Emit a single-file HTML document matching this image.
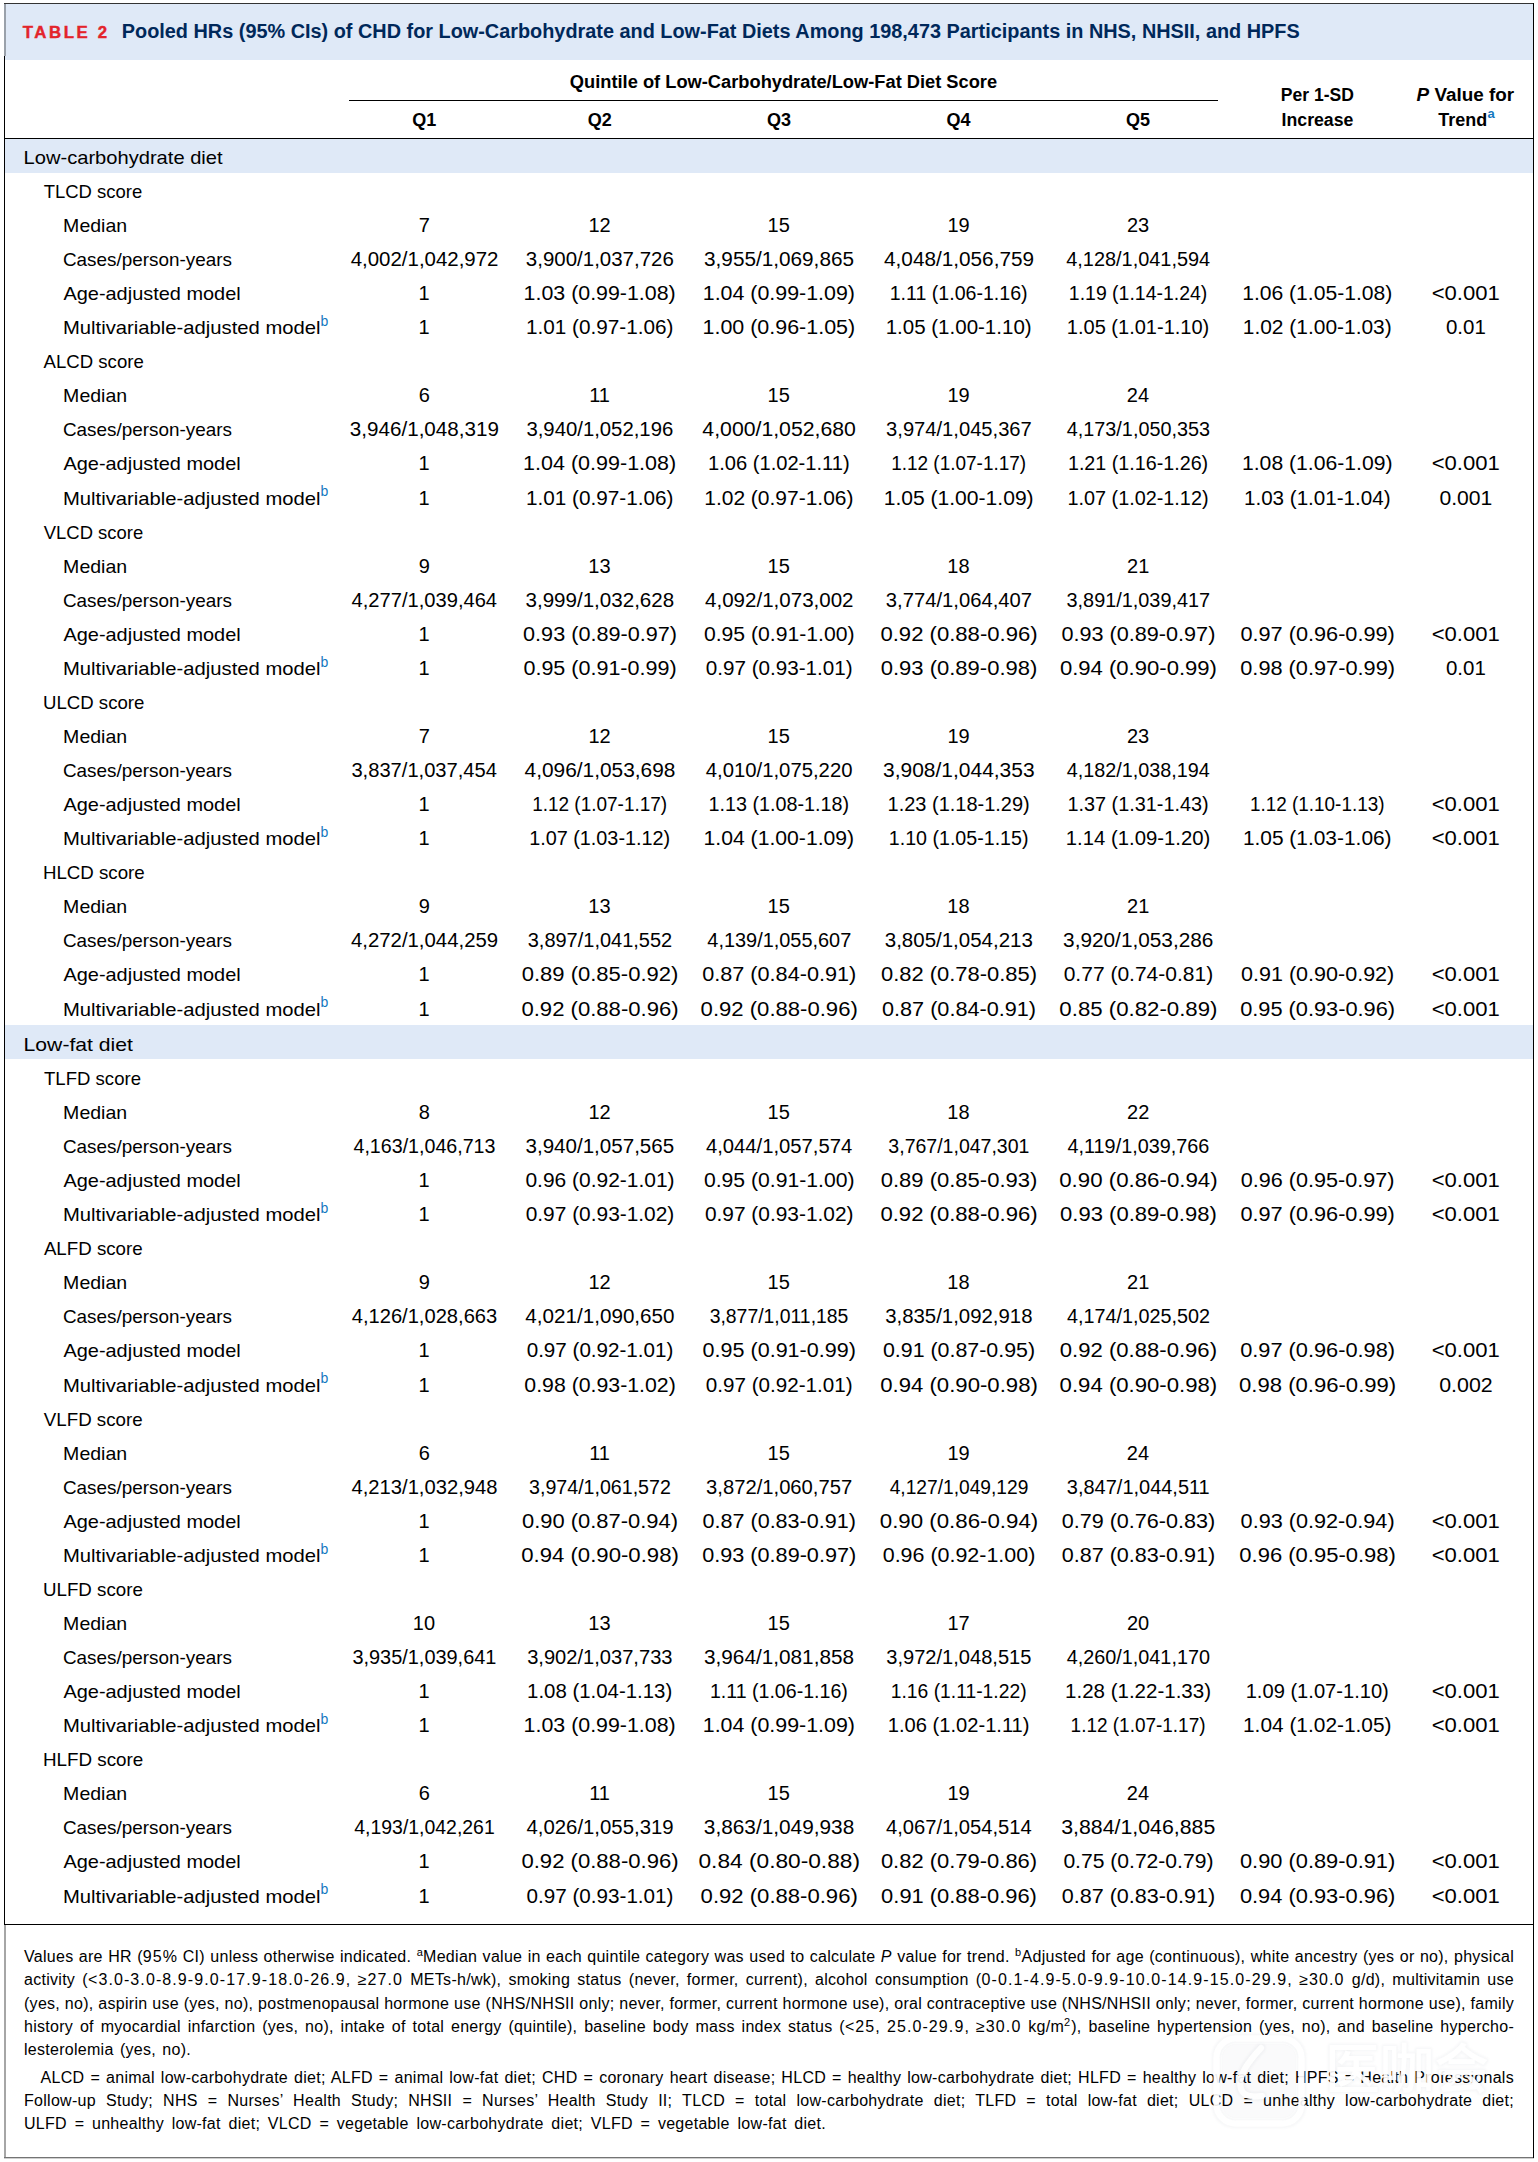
<!DOCTYPE html>
<html><head><meta charset="utf-8"><title>Table 2</title>
<style>
html,body{margin:0;padding:0;background:#fff;}
body{width:1538px;height:2162px;position:relative;overflow:hidden;font-family:"Liberation Sans",Arial,sans-serif;color:#000;}
svg{position:absolute;left:0;top:0;}
svg text{font-family:"Liberation Sans",Arial,sans-serif;}
.fn{position:absolute;left:24px;width:1490px;font-size:16px;line-height:23px;height:23px;white-space:nowrap;text-align:justify;text-align-last:justify;letter-spacing:0.28px;}
.fn .n{letter-spacing:1.1px;}
.fn sup{font-size:11px;line-height:0;vertical-align:6px;}
</style></head><body>
<svg width="1538" height="2162" viewBox="0 0 1538 2162">
<rect x="5" y="4" width="1528" height="56" fill="#dfe9f7"/>
<rect x="5" y="139" width="1528" height="34" fill="#dfe9f7"/>
<rect x="5" y="1025" width="1528" height="34" fill="#dfe9f7"/>
<rect x="4" y="3" width="1530" height="1" fill="#333"/>
<rect x="4" y="4" width="2" height="52" fill="#9aa1aa"/>
<rect x="4" y="56" width="1" height="1869" fill="#000"/>
<rect x="4" y="1925" width="2" height="232" fill="#a6a6a6"/>
<rect x="4" y="2157" width="1530" height="1" fill="#747474"/>
<rect x="4" y="2158" width="1530" height="1" fill="#cfcfcf"/>
<rect x="1533" y="3" width="1" height="2155" fill="#000"/>
<rect x="5" y="138" width="1528" height="1" fill="#000"/>
<rect x="349" y="100" width="869" height="1" fill="#000"/>
<rect x="5" y="1924" width="1528" height="1" fill="#000"/>
<text x="22.73" y="38.00" font-size="16.8" font-weight="bold" fill="#e3242b" textLength="84.29" lengthAdjust="spacing" stroke="#e3242b" stroke-width="0.45">TABLE 2</text>
<text x="121.81" y="38.00" font-size="19.6" font-weight="bold" fill="#00285a" textLength="1177.90" lengthAdjust="spacingAndGlyphs">Pooled HRs (95% CIs) of CHD for Low-Carbohydrate and Low-Fat Diets Among 198,473 Participants in NHS, NHSII, and HPFS</text>
<text x="569.87" y="88.00" font-size="18" font-weight="bold" textLength="427.29" lengthAdjust="spacingAndGlyphs">Quintile of Low-Carbohydrate/Low-Fat Diet Score</text>
<text x="412.35" y="126.00" font-size="18" font-weight="bold">Q1</text>
<text x="587.83" y="126.00" font-size="18" font-weight="bold">Q2</text>
<text x="766.94" y="126.00" font-size="18" font-weight="bold">Q3</text>
<text x="946.47" y="126.00" font-size="18" font-weight="bold">Q4</text>
<text x="1126.10" y="126.00" font-size="18" font-weight="bold">Q5</text>
<text x="1280.86" y="101.00" font-size="18" font-weight="bold" textLength="73.10" lengthAdjust="spacingAndGlyphs">Per 1-SD</text>
<text x="1281.55" y="125.70" font-size="18" font-weight="bold" textLength="71.86" lengthAdjust="spacingAndGlyphs">Increase</text>
<text x="1416.57" y="101.00" font-size="18" font-weight="bold" textLength="97.53" lengthAdjust="spacingAndGlyphs"><tspan font-style="italic">P</tspan> Value for</text>
<text x="1438.32" y="125.70" font-size="18" font-weight="bold" textLength="48.90" lengthAdjust="spacingAndGlyphs">Trend</text>
<text x="1487.5" y="117.7" fill="#1478c0" font-weight="bold" font-size="13">a</text>
<text x="23.59" y="163.96" font-size="19" textLength="199.01" lengthAdjust="spacingAndGlyphs">Low-carbohydrate diet</text>
<text x="43.63" y="197.94" font-size="19" textLength="98.60" lengthAdjust="spacingAndGlyphs">TLCD score</text>
<text x="63.14" y="231.91" font-size="19" textLength="64.03" lengthAdjust="spacingAndGlyphs">Median</text>
<text x="418.75" y="231.91" font-size="20">7</text>
<text x="588.45" y="231.91" font-size="20">12</text>
<text x="767.55" y="231.91" font-size="20">15</text>
<text x="947.40" y="231.91" font-size="20">19</text>
<text x="1127.00" y="231.91" font-size="20">23</text>
<text x="62.91" y="265.89" font-size="19" textLength="169.08" lengthAdjust="spacingAndGlyphs">Cases/person-years</text>
<text x="350.70" y="265.89" font-size="20" textLength="147.80" lengthAdjust="spacingAndGlyphs">4,002/1,042,972</text>
<text x="525.89" y="265.89" font-size="20" textLength="147.90" lengthAdjust="spacingAndGlyphs">3,900/1,037,726</text>
<text x="704.09" y="265.89" font-size="20" textLength="149.92" lengthAdjust="spacingAndGlyphs">3,955/1,069,865</text>
<text x="884.09" y="265.89" font-size="20" textLength="149.93" lengthAdjust="spacingAndGlyphs">4,048/1,056,759</text>
<text x="1066.27" y="265.89" font-size="20" textLength="143.94" lengthAdjust="spacingAndGlyphs">4,128/1,041,594</text>
<text x="63.45" y="299.86" font-size="19" textLength="177.29" lengthAdjust="spacingAndGlyphs">Age-adjusted model</text>
<text x="418.45" y="299.86" font-size="20">1</text>
<text x="523.61" y="299.86" font-size="20" textLength="152.09" lengthAdjust="spacingAndGlyphs">1.03 (0.99-1.08)</text>
<text x="702.75" y="299.86" font-size="20" textLength="152.21" lengthAdjust="spacingAndGlyphs">1.04 (0.99-1.09)</text>
<text x="889.71" y="299.86" font-size="20" textLength="137.92" lengthAdjust="spacingAndGlyphs">1.11 (1.06-1.16)</text>
<text x="1068.83" y="299.86" font-size="20" textLength="138.47" lengthAdjust="spacingAndGlyphs">1.19 (1.14-1.24)</text>
<text x="1242.15" y="299.86" font-size="20" textLength="150.21" lengthAdjust="spacingAndGlyphs">1.06 (1.05-1.08)</text>
<text x="1431.70" y="299.86" font-size="20" textLength="68.13" lengthAdjust="spacingAndGlyphs">&lt;0.001</text>
<text x="63.03" y="334.33" font-size="19" textLength="257.51" lengthAdjust="spacingAndGlyphs">Multivariable-adjusted model</text>
<text x="320.5" y="325.93" fill="#1478c0" font-size="14">b</text>
<text x="418.45" y="334.33" font-size="20">1</text>
<text x="525.90" y="334.33" font-size="20" textLength="147.51" lengthAdjust="spacingAndGlyphs">1.01 (0.97-1.06)</text>
<text x="702.51" y="334.33" font-size="20" textLength="152.68" lengthAdjust="spacingAndGlyphs">1.00 (0.96-1.05)</text>
<text x="885.66" y="334.33" font-size="20" textLength="145.98" lengthAdjust="spacingAndGlyphs">1.05 (1.00-1.10)</text>
<text x="1066.83" y="334.33" font-size="20" textLength="142.46" lengthAdjust="spacingAndGlyphs">1.05 (1.01-1.10)</text>
<text x="1242.79" y="334.33" font-size="20" textLength="148.92" lengthAdjust="spacingAndGlyphs">1.02 (1.00-1.03)</text>
<text x="1445.93" y="334.33" font-size="20" textLength="39.87" lengthAdjust="spacingAndGlyphs">0.01</text>
<text x="43.60" y="368.30" font-size="19" textLength="100.16" lengthAdjust="spacingAndGlyphs">ALCD score</text>
<text x="63.14" y="402.28" font-size="19" textLength="64.03" lengthAdjust="spacingAndGlyphs">Median</text>
<text x="418.65" y="402.28" font-size="20">6</text>
<text x="589.15" y="402.28" font-size="20">11</text>
<text x="767.55" y="402.28" font-size="20">15</text>
<text x="947.40" y="402.28" font-size="20">19</text>
<text x="1126.85" y="402.28" font-size="20">24</text>
<text x="62.91" y="436.26" font-size="19" textLength="169.08" lengthAdjust="spacingAndGlyphs">Cases/person-years</text>
<text x="349.89" y="436.26" font-size="20" textLength="149.01" lengthAdjust="spacingAndGlyphs">3,946/1,048,319</text>
<text x="526.40" y="436.26" font-size="20" textLength="146.89" lengthAdjust="spacingAndGlyphs">3,940/1,052,196</text>
<text x="702.39" y="436.26" font-size="20" textLength="153.52" lengthAdjust="spacingAndGlyphs">4,000/1,052,680</text>
<text x="886.07" y="436.26" font-size="20" textLength="145.75" lengthAdjust="spacingAndGlyphs">3,974/1,045,367</text>
<text x="1066.83" y="436.26" font-size="20" textLength="143.12" lengthAdjust="spacingAndGlyphs">4,173/1,050,353</text>
<text x="63.45" y="470.23" font-size="19" textLength="177.29" lengthAdjust="spacingAndGlyphs">Age-adjusted model</text>
<text x="418.45" y="470.23" font-size="20">1</text>
<text x="523.13" y="470.23" font-size="20" textLength="153.03" lengthAdjust="spacingAndGlyphs">1.04 (0.99-1.08)</text>
<text x="708.03" y="470.23" font-size="20" textLength="141.68" lengthAdjust="spacingAndGlyphs">1.06 (1.02-1.11)</text>
<text x="891.20" y="470.23" font-size="20" textLength="134.94" lengthAdjust="spacingAndGlyphs">1.12 (1.07-1.17)</text>
<text x="1067.95" y="470.23" font-size="20" textLength="140.23" lengthAdjust="spacingAndGlyphs">1.21 (1.16-1.26)</text>
<text x="1241.97" y="470.23" font-size="20" textLength="150.56" lengthAdjust="spacingAndGlyphs">1.08 (1.06-1.09)</text>
<text x="1431.70" y="470.23" font-size="20" textLength="68.13" lengthAdjust="spacingAndGlyphs">&lt;0.001</text>
<text x="63.03" y="504.70" font-size="19" textLength="257.51" lengthAdjust="spacingAndGlyphs">Multivariable-adjusted model</text>
<text x="320.5" y="496.30" fill="#1478c0" font-size="14">b</text>
<text x="418.45" y="504.70" font-size="20">1</text>
<text x="525.90" y="504.70" font-size="20" textLength="147.51" lengthAdjust="spacingAndGlyphs">1.01 (0.97-1.06)</text>
<text x="704.22" y="504.70" font-size="20" textLength="149.27" lengthAdjust="spacingAndGlyphs">1.02 (0.97-1.06)</text>
<text x="883.66" y="504.70" font-size="20" textLength="149.98" lengthAdjust="spacingAndGlyphs">1.05 (1.00-1.09)</text>
<text x="1067.59" y="504.70" font-size="20" textLength="140.93" lengthAdjust="spacingAndGlyphs">1.07 (1.02-1.12)</text>
<text x="1243.97" y="504.70" font-size="20" textLength="146.57" lengthAdjust="spacingAndGlyphs">1.03 (1.01-1.04)</text>
<text x="1439.46" y="504.70" font-size="20" textLength="52.85" lengthAdjust="spacingAndGlyphs">0.001</text>
<text x="43.81" y="538.67" font-size="19" textLength="99.34" lengthAdjust="spacingAndGlyphs">VLCD score</text>
<text x="63.14" y="572.65" font-size="19" textLength="64.03" lengthAdjust="spacingAndGlyphs">Median</text>
<text x="418.75" y="572.65" font-size="20">9</text>
<text x="588.35" y="572.65" font-size="20">13</text>
<text x="767.55" y="572.65" font-size="20">15</text>
<text x="947.35" y="572.65" font-size="20">18</text>
<text x="1127.05" y="572.65" font-size="20">21</text>
<text x="62.91" y="606.62" font-size="19" textLength="169.08" lengthAdjust="spacingAndGlyphs">Cases/person-years</text>
<text x="351.59" y="606.62" font-size="20" textLength="145.50" lengthAdjust="spacingAndGlyphs">4,277/1,039,464</text>
<text x="525.50" y="606.62" font-size="20" textLength="148.68" lengthAdjust="spacingAndGlyphs">3,999/1,032,628</text>
<text x="705.07" y="606.62" font-size="20" textLength="148.47" lengthAdjust="spacingAndGlyphs">4,092/1,073,002</text>
<text x="885.84" y="606.62" font-size="20" textLength="146.20" lengthAdjust="spacingAndGlyphs">3,774/1,064,407</text>
<text x="1066.53" y="606.62" font-size="20" textLength="143.62" lengthAdjust="spacingAndGlyphs">3,891/1,039,417</text>
<text x="63.45" y="640.60" font-size="19" textLength="177.29" lengthAdjust="spacingAndGlyphs">Age-adjusted model</text>
<text x="418.45" y="640.60" font-size="20">1</text>
<text x="523.08" y="640.60" font-size="20" textLength="153.90" lengthAdjust="spacingAndGlyphs">0.93 (0.89-0.97)</text>
<text x="703.97" y="640.60" font-size="20" textLength="150.51" lengthAdjust="spacingAndGlyphs">0.95 (0.91-1.00)</text>
<text x="880.44" y="640.60" font-size="20" textLength="157.17" lengthAdjust="spacingAndGlyphs">0.92 (0.88-0.96)</text>
<text x="1061.48" y="640.60" font-size="20" textLength="153.90" lengthAdjust="spacingAndGlyphs">0.93 (0.89-0.97)</text>
<text x="1240.44" y="640.60" font-size="20" textLength="154.37" lengthAdjust="spacingAndGlyphs">0.97 (0.96-0.99)</text>
<text x="1431.70" y="640.60" font-size="20" textLength="68.13" lengthAdjust="spacingAndGlyphs">&lt;0.001</text>
<text x="63.03" y="675.06" font-size="19" textLength="257.51" lengthAdjust="spacingAndGlyphs">Multivariable-adjusted model</text>
<text x="320.5" y="666.66" fill="#1478c0" font-size="14">b</text>
<text x="418.45" y="675.06" font-size="20">1</text>
<text x="523.43" y="675.06" font-size="20" textLength="153.20" lengthAdjust="spacingAndGlyphs">0.95 (0.91-0.99)</text>
<text x="705.77" y="675.06" font-size="20" textLength="146.89" lengthAdjust="spacingAndGlyphs">0.97 (0.93-1.01)</text>
<text x="880.68" y="675.06" font-size="20" textLength="156.71" lengthAdjust="spacingAndGlyphs">0.93 (0.89-0.98)</text>
<text x="1059.90" y="675.06" font-size="20" textLength="157.06" lengthAdjust="spacingAndGlyphs">0.94 (0.90-0.99)</text>
<text x="1240.27" y="675.06" font-size="20" textLength="154.72" lengthAdjust="spacingAndGlyphs">0.98 (0.97-0.99)</text>
<text x="1445.93" y="675.06" font-size="20" textLength="39.87" lengthAdjust="spacingAndGlyphs">0.01</text>
<text x="43.00" y="709.04" font-size="19" textLength="101.36" lengthAdjust="spacingAndGlyphs">ULCD score</text>
<text x="63.14" y="743.02" font-size="19" textLength="64.03" lengthAdjust="spacingAndGlyphs">Median</text>
<text x="418.75" y="743.02" font-size="20">7</text>
<text x="588.45" y="743.02" font-size="20">12</text>
<text x="767.55" y="743.02" font-size="20">15</text>
<text x="947.40" y="743.02" font-size="20">19</text>
<text x="1127.00" y="743.02" font-size="20">23</text>
<text x="62.91" y="776.99" font-size="19" textLength="169.08" lengthAdjust="spacingAndGlyphs">Cases/person-years</text>
<text x="351.40" y="776.99" font-size="20" textLength="145.58" lengthAdjust="spacingAndGlyphs">3,837/1,037,454</text>
<text x="524.53" y="776.99" font-size="20" textLength="150.94" lengthAdjust="spacingAndGlyphs">4,096/1,053,698</text>
<text x="705.79" y="776.99" font-size="20" textLength="146.71" lengthAdjust="spacingAndGlyphs">4,010/1,075,220</text>
<text x="883.10" y="776.99" font-size="20" textLength="151.48" lengthAdjust="spacingAndGlyphs">3,908/1,044,353</text>
<text x="1066.72" y="776.99" font-size="20" textLength="143.05" lengthAdjust="spacingAndGlyphs">4,182/1,038,194</text>
<text x="63.45" y="810.97" font-size="19" textLength="177.29" lengthAdjust="spacingAndGlyphs">Age-adjusted model</text>
<text x="418.45" y="810.97" font-size="20">1</text>
<text x="532.20" y="810.97" font-size="20" textLength="134.94" lengthAdjust="spacingAndGlyphs">1.12 (1.07-1.17)</text>
<text x="708.57" y="810.97" font-size="20" textLength="140.58" lengthAdjust="spacingAndGlyphs">1.13 (1.08-1.18)</text>
<text x="887.55" y="810.97" font-size="20" textLength="142.22" lengthAdjust="spacingAndGlyphs">1.23 (1.18-1.29)</text>
<text x="1067.42" y="810.97" font-size="20" textLength="141.28" lengthAdjust="spacingAndGlyphs">1.37 (1.31-1.43)</text>
<text x="1250.09" y="810.97" font-size="20" textLength="134.36" lengthAdjust="spacingAndGlyphs">1.12 (1.10-1.13)</text>
<text x="1431.70" y="810.97" font-size="20" textLength="68.13" lengthAdjust="spacingAndGlyphs">&lt;0.001</text>
<text x="63.03" y="845.43" font-size="19" textLength="257.51" lengthAdjust="spacingAndGlyphs">Multivariable-adjusted model</text>
<text x="320.5" y="837.03" fill="#1478c0" font-size="14">b</text>
<text x="418.45" y="845.43" font-size="20">1</text>
<text x="529.14" y="845.43" font-size="20" textLength="141.05" lengthAdjust="spacingAndGlyphs">1.07 (1.03-1.12)</text>
<text x="703.51" y="845.43" font-size="20" textLength="150.68" lengthAdjust="spacingAndGlyphs">1.04 (1.00-1.09)</text>
<text x="888.84" y="845.43" font-size="20" textLength="139.64" lengthAdjust="spacingAndGlyphs">1.10 (1.05-1.15)</text>
<text x="1065.83" y="845.43" font-size="20" textLength="144.46" lengthAdjust="spacingAndGlyphs">1.14 (1.09-1.20)</text>
<text x="1242.91" y="845.43" font-size="20" textLength="148.68" lengthAdjust="spacingAndGlyphs">1.05 (1.03-1.06)</text>
<text x="1431.70" y="845.43" font-size="20" textLength="68.13" lengthAdjust="spacingAndGlyphs">&lt;0.001</text>
<text x="42.90" y="879.41" font-size="19" textLength="101.86" lengthAdjust="spacingAndGlyphs">HLCD score</text>
<text x="63.14" y="913.38" font-size="19" textLength="64.03" lengthAdjust="spacingAndGlyphs">Median</text>
<text x="418.75" y="913.38" font-size="20">9</text>
<text x="588.35" y="913.38" font-size="20">13</text>
<text x="767.55" y="913.38" font-size="20">15</text>
<text x="947.35" y="913.38" font-size="20">18</text>
<text x="1127.05" y="913.38" font-size="20">21</text>
<text x="62.91" y="947.36" font-size="19" textLength="169.08" lengthAdjust="spacingAndGlyphs">Cases/person-years</text>
<text x="350.98" y="947.36" font-size="20" textLength="147.13" lengthAdjust="spacingAndGlyphs">4,272/1,044,259</text>
<text x="527.74" y="947.36" font-size="20" textLength="144.41" lengthAdjust="spacingAndGlyphs">3,897/1,041,552</text>
<text x="707.35" y="947.36" font-size="20" textLength="143.88" lengthAdjust="spacingAndGlyphs">4,139/1,055,607</text>
<text x="884.78" y="947.36" font-size="20" textLength="148.12" lengthAdjust="spacingAndGlyphs">3,805/1,054,213</text>
<text x="1063.12" y="947.36" font-size="20" textLength="150.25" lengthAdjust="spacingAndGlyphs">3,920/1,053,286</text>
<text x="63.45" y="981.34" font-size="19" textLength="177.29" lengthAdjust="spacingAndGlyphs">Age-adjusted model</text>
<text x="418.45" y="981.34" font-size="20">1</text>
<text x="521.74" y="981.34" font-size="20" textLength="156.59" lengthAdjust="spacingAndGlyphs">0.89 (0.85-0.92)</text>
<text x="702.22" y="981.34" font-size="20" textLength="154.02" lengthAdjust="spacingAndGlyphs">0.87 (0.84-0.91)</text>
<text x="880.97" y="981.34" font-size="20" textLength="156.12" lengthAdjust="spacingAndGlyphs">0.82 (0.78-0.85)</text>
<text x="1063.69" y="981.34" font-size="20" textLength="149.46" lengthAdjust="spacingAndGlyphs">0.77 (0.74-0.81)</text>
<text x="1240.97" y="981.34" font-size="20" textLength="153.32" lengthAdjust="spacingAndGlyphs">0.91 (0.90-0.92)</text>
<text x="1431.70" y="981.34" font-size="20" textLength="68.13" lengthAdjust="spacingAndGlyphs">&lt;0.001</text>
<text x="63.03" y="1015.80" font-size="19" textLength="257.51" lengthAdjust="spacingAndGlyphs">Multivariable-adjusted model</text>
<text x="320.5" y="1007.40" fill="#1478c0" font-size="14">b</text>
<text x="418.45" y="1015.80" font-size="20">1</text>
<text x="521.44" y="1015.80" font-size="20" textLength="157.17" lengthAdjust="spacingAndGlyphs">0.92 (0.88-0.96)</text>
<text x="700.64" y="1015.80" font-size="20" textLength="157.17" lengthAdjust="spacingAndGlyphs">0.92 (0.88-0.96)</text>
<text x="882.02" y="1015.80" font-size="20" textLength="154.02" lengthAdjust="spacingAndGlyphs">0.87 (0.84-0.91)</text>
<text x="1059.38" y="1015.80" font-size="20" textLength="158.11" lengthAdjust="spacingAndGlyphs">0.85 (0.82-0.89)</text>
<text x="1240.15" y="1015.80" font-size="20" textLength="154.95" lengthAdjust="spacingAndGlyphs">0.95 (0.93-0.96)</text>
<text x="1431.70" y="1015.80" font-size="20" textLength="68.13" lengthAdjust="spacingAndGlyphs">&lt;0.001</text>
<text x="23.61" y="1050.98" font-size="19" textLength="109.29" lengthAdjust="spacingAndGlyphs">Low-fat diet</text>
<text x="44.03" y="1084.95" font-size="19" textLength="96.97" lengthAdjust="spacingAndGlyphs">TLFD score</text>
<text x="63.14" y="1118.93" font-size="19" textLength="64.03" lengthAdjust="spacingAndGlyphs">Median</text>
<text x="418.75" y="1118.93" font-size="20">8</text>
<text x="588.45" y="1118.93" font-size="20">12</text>
<text x="767.55" y="1118.93" font-size="20">15</text>
<text x="947.35" y="1118.93" font-size="20">18</text>
<text x="1127.10" y="1118.93" font-size="20">22</text>
<text x="62.91" y="1152.90" font-size="19" textLength="169.08" lengthAdjust="spacingAndGlyphs">Cases/person-years</text>
<text x="353.49" y="1152.90" font-size="20" textLength="142.00" lengthAdjust="spacingAndGlyphs">4,163/1,046,713</text>
<text x="525.50" y="1152.90" font-size="20" textLength="148.68" lengthAdjust="spacingAndGlyphs">3,940/1,057,565</text>
<text x="705.90" y="1152.90" font-size="20" textLength="146.28" lengthAdjust="spacingAndGlyphs">4,044/1,057,574</text>
<text x="888.36" y="1152.90" font-size="20" textLength="141.06" lengthAdjust="spacingAndGlyphs">3,767/1,047,301</text>
<text x="1067.55" y="1152.90" font-size="20" textLength="141.70" lengthAdjust="spacingAndGlyphs">4,119/1,039,766</text>
<text x="63.45" y="1186.88" font-size="19" textLength="177.29" lengthAdjust="spacingAndGlyphs">Age-adjusted model</text>
<text x="418.45" y="1186.88" font-size="20">1</text>
<text x="525.46" y="1186.88" font-size="20" textLength="149.11" lengthAdjust="spacingAndGlyphs">0.96 (0.92-1.01)</text>
<text x="703.97" y="1186.88" font-size="20" textLength="150.51" lengthAdjust="spacingAndGlyphs">0.95 (0.91-1.00)</text>
<text x="880.68" y="1186.88" font-size="20" textLength="156.71" lengthAdjust="spacingAndGlyphs">0.89 (0.85-0.93)</text>
<text x="1059.20" y="1186.88" font-size="20" textLength="158.46" lengthAdjust="spacingAndGlyphs">0.90 (0.86-0.94)</text>
<text x="1240.73" y="1186.88" font-size="20" textLength="153.78" lengthAdjust="spacingAndGlyphs">0.96 (0.95-0.97)</text>
<text x="1431.70" y="1186.88" font-size="20" textLength="68.13" lengthAdjust="spacingAndGlyphs">&lt;0.001</text>
<text x="63.03" y="1221.34" font-size="19" textLength="257.51" lengthAdjust="spacingAndGlyphs">Multivariable-adjusted model</text>
<text x="320.5" y="1212.94" fill="#1478c0" font-size="14">b</text>
<text x="418.45" y="1221.34" font-size="20">1</text>
<text x="525.70" y="1221.34" font-size="20" textLength="148.64" lengthAdjust="spacingAndGlyphs">0.97 (0.93-1.02)</text>
<text x="704.90" y="1221.34" font-size="20" textLength="148.64" lengthAdjust="spacingAndGlyphs">0.97 (0.93-1.02)</text>
<text x="880.44" y="1221.34" font-size="20" textLength="157.17" lengthAdjust="spacingAndGlyphs">0.92 (0.88-0.96)</text>
<text x="1060.08" y="1221.34" font-size="20" textLength="156.71" lengthAdjust="spacingAndGlyphs">0.93 (0.89-0.98)</text>
<text x="1240.44" y="1221.34" font-size="20" textLength="154.37" lengthAdjust="spacingAndGlyphs">0.97 (0.96-0.99)</text>
<text x="1431.70" y="1221.34" font-size="20" textLength="68.13" lengthAdjust="spacingAndGlyphs">&lt;0.001</text>
<text x="43.90" y="1255.32" font-size="19" textLength="98.74" lengthAdjust="spacingAndGlyphs">ALFD score</text>
<text x="63.14" y="1289.30" font-size="19" textLength="64.03" lengthAdjust="spacingAndGlyphs">Median</text>
<text x="418.75" y="1289.30" font-size="20">9</text>
<text x="588.45" y="1289.30" font-size="20">12</text>
<text x="767.55" y="1289.30" font-size="20">15</text>
<text x="947.35" y="1289.30" font-size="20">18</text>
<text x="1127.05" y="1289.30" font-size="20">21</text>
<text x="62.91" y="1323.27" font-size="19" textLength="169.08" lengthAdjust="spacingAndGlyphs">Cases/person-years</text>
<text x="351.70" y="1323.27" font-size="20" textLength="145.58" lengthAdjust="spacingAndGlyphs">4,126/1,028,663</text>
<text x="525.31" y="1323.27" font-size="20" textLength="149.27" lengthAdjust="spacingAndGlyphs">4,021/1,090,650</text>
<text x="709.67" y="1323.27" font-size="20" textLength="138.75" lengthAdjust="spacingAndGlyphs">3,877/1,011,185</text>
<text x="885.17" y="1323.27" font-size="20" textLength="147.34" lengthAdjust="spacingAndGlyphs">3,835/1,092,918</text>
<text x="1067.05" y="1323.27" font-size="20" textLength="142.87" lengthAdjust="spacingAndGlyphs">4,174/1,025,502</text>
<text x="63.45" y="1357.25" font-size="19" textLength="177.29" lengthAdjust="spacingAndGlyphs">Age-adjusted model</text>
<text x="418.45" y="1357.25" font-size="20">1</text>
<text x="526.69" y="1357.25" font-size="20" textLength="146.66" lengthAdjust="spacingAndGlyphs">0.97 (0.92-1.01)</text>
<text x="702.63" y="1357.25" font-size="20" textLength="153.20" lengthAdjust="spacingAndGlyphs">0.95 (0.91-0.99)</text>
<text x="882.95" y="1357.25" font-size="20" textLength="152.15" lengthAdjust="spacingAndGlyphs">0.91 (0.87-0.95)</text>
<text x="1059.84" y="1357.25" font-size="20" textLength="157.17" lengthAdjust="spacingAndGlyphs">0.92 (0.88-0.96)</text>
<text x="1240.15" y="1357.25" font-size="20" textLength="154.95" lengthAdjust="spacingAndGlyphs">0.97 (0.96-0.98)</text>
<text x="1431.70" y="1357.25" font-size="20" textLength="68.13" lengthAdjust="spacingAndGlyphs">&lt;0.001</text>
<text x="63.03" y="1391.71" font-size="19" textLength="257.51" lengthAdjust="spacingAndGlyphs">Multivariable-adjusted model</text>
<text x="320.5" y="1383.31" fill="#1478c0" font-size="14">b</text>
<text x="418.45" y="1391.71" font-size="20">1</text>
<text x="524.30" y="1391.71" font-size="20" textLength="151.45" lengthAdjust="spacingAndGlyphs">0.98 (0.93-1.02)</text>
<text x="705.89" y="1391.71" font-size="20" textLength="146.66" lengthAdjust="spacingAndGlyphs">0.97 (0.92-1.01)</text>
<text x="880.21" y="1391.71" font-size="20" textLength="157.64" lengthAdjust="spacingAndGlyphs">0.94 (0.90-0.98)</text>
<text x="1059.61" y="1391.71" font-size="20" textLength="157.64" lengthAdjust="spacingAndGlyphs">0.94 (0.90-0.98)</text>
<text x="1239.04" y="1391.71" font-size="20" textLength="157.17" lengthAdjust="spacingAndGlyphs">0.98 (0.96-0.99)</text>
<text x="1439.20" y="1391.71" font-size="20" textLength="53.48" lengthAdjust="spacingAndGlyphs">0.002</text>
<text x="43.81" y="1425.69" font-size="19" textLength="98.83" lengthAdjust="spacingAndGlyphs">VLFD score</text>
<text x="63.14" y="1459.66" font-size="19" textLength="64.03" lengthAdjust="spacingAndGlyphs">Median</text>
<text x="418.65" y="1459.66" font-size="20">6</text>
<text x="589.15" y="1459.66" font-size="20">11</text>
<text x="767.55" y="1459.66" font-size="20">15</text>
<text x="947.40" y="1459.66" font-size="20">19</text>
<text x="1126.85" y="1459.66" font-size="20">24</text>
<text x="62.91" y="1493.64" font-size="19" textLength="169.08" lengthAdjust="spacingAndGlyphs">Cases/person-years</text>
<text x="351.48" y="1493.64" font-size="20" textLength="146.03" lengthAdjust="spacingAndGlyphs">4,213/1,032,948</text>
<text x="529.08" y="1493.64" font-size="20" textLength="141.72" lengthAdjust="spacingAndGlyphs">3,974/1,061,572</text>
<text x="706.10" y="1493.64" font-size="20" textLength="146.09" lengthAdjust="spacingAndGlyphs">3,872/1,060,757</text>
<text x="889.66" y="1493.64" font-size="20" textLength="138.75" lengthAdjust="spacingAndGlyphs">4,127/1,049,129</text>
<text x="1066.86" y="1493.64" font-size="20" textLength="142.88" lengthAdjust="spacingAndGlyphs">3,847/1,044,511</text>
<text x="63.45" y="1527.62" font-size="19" textLength="177.29" lengthAdjust="spacingAndGlyphs">Age-adjusted model</text>
<text x="418.45" y="1527.62" font-size="20">1</text>
<text x="522.03" y="1527.62" font-size="20" textLength="156.00" lengthAdjust="spacingAndGlyphs">0.90 (0.87-0.94)</text>
<text x="702.57" y="1527.62" font-size="20" textLength="153.32" lengthAdjust="spacingAndGlyphs">0.87 (0.83-0.91)</text>
<text x="879.80" y="1527.62" font-size="20" textLength="158.46" lengthAdjust="spacingAndGlyphs">0.90 (0.86-0.94)</text>
<text x="1061.65" y="1527.62" font-size="20" textLength="153.55" lengthAdjust="spacingAndGlyphs">0.79 (0.76-0.83)</text>
<text x="1240.62" y="1527.62" font-size="20" textLength="154.02" lengthAdjust="spacingAndGlyphs">0.93 (0.92-0.94)</text>
<text x="1431.70" y="1527.62" font-size="20" textLength="68.13" lengthAdjust="spacingAndGlyphs">&lt;0.001</text>
<text x="63.03" y="1562.08" font-size="19" textLength="257.51" lengthAdjust="spacingAndGlyphs">Multivariable-adjusted model</text>
<text x="320.5" y="1553.68" fill="#1478c0" font-size="14">b</text>
<text x="418.45" y="1562.08" font-size="20">1</text>
<text x="521.21" y="1562.08" font-size="20" textLength="157.64" lengthAdjust="spacingAndGlyphs">0.94 (0.90-0.98)</text>
<text x="702.28" y="1562.08" font-size="20" textLength="153.90" lengthAdjust="spacingAndGlyphs">0.93 (0.89-0.97)</text>
<text x="882.72" y="1562.08" font-size="20" textLength="152.62" lengthAdjust="spacingAndGlyphs">0.96 (0.92-1.00)</text>
<text x="1061.77" y="1562.08" font-size="20" textLength="153.32" lengthAdjust="spacingAndGlyphs">0.87 (0.83-0.91)</text>
<text x="1239.34" y="1562.08" font-size="20" textLength="156.59" lengthAdjust="spacingAndGlyphs">0.96 (0.95-0.98)</text>
<text x="1431.70" y="1562.08" font-size="20" textLength="68.13" lengthAdjust="spacingAndGlyphs">&lt;0.001</text>
<text x="43.00" y="1596.06" font-size="19" textLength="99.85" lengthAdjust="spacingAndGlyphs">ULFD score</text>
<text x="63.14" y="1630.03" font-size="19" textLength="64.03" lengthAdjust="spacingAndGlyphs">Median</text>
<text x="412.80" y="1630.03" font-size="20">10</text>
<text x="588.35" y="1630.03" font-size="20">13</text>
<text x="767.55" y="1630.03" font-size="20">15</text>
<text x="947.45" y="1630.03" font-size="20">17</text>
<text x="1126.95" y="1630.03" font-size="20">20</text>
<text x="62.91" y="1664.01" font-size="19" textLength="169.08" lengthAdjust="spacingAndGlyphs">Cases/person-years</text>
<text x="352.41" y="1664.01" font-size="20" textLength="143.97" lengthAdjust="spacingAndGlyphs">3,935/1,039,641</text>
<text x="527.18" y="1664.01" font-size="20" textLength="145.33" lengthAdjust="spacingAndGlyphs">3,902/1,037,733</text>
<text x="704.03" y="1664.01" font-size="20" textLength="150.03" lengthAdjust="spacingAndGlyphs">3,964/1,081,858</text>
<text x="886.24" y="1664.01" font-size="20" textLength="145.21" lengthAdjust="spacingAndGlyphs">3,972/1,048,515</text>
<text x="1066.72" y="1664.01" font-size="20" textLength="143.25" lengthAdjust="spacingAndGlyphs">4,260/1,041,170</text>
<text x="63.45" y="1697.98" font-size="19" textLength="177.29" lengthAdjust="spacingAndGlyphs">Age-adjusted model</text>
<text x="418.45" y="1697.98" font-size="20">1</text>
<text x="527.08" y="1697.98" font-size="20" textLength="145.16" lengthAdjust="spacingAndGlyphs">1.08 (1.04-1.13)</text>
<text x="709.91" y="1697.98" font-size="20" textLength="137.92" lengthAdjust="spacingAndGlyphs">1.11 (1.06-1.16)</text>
<text x="890.77" y="1697.98" font-size="20" textLength="135.81" lengthAdjust="spacingAndGlyphs">1.16 (1.11-1.22)</text>
<text x="1065.06" y="1697.98" font-size="20" textLength="145.98" lengthAdjust="spacingAndGlyphs">1.28 (1.22-1.33)</text>
<text x="1245.68" y="1697.98" font-size="20" textLength="143.16" lengthAdjust="spacingAndGlyphs">1.09 (1.07-1.10)</text>
<text x="1431.70" y="1697.98" font-size="20" textLength="68.13" lengthAdjust="spacingAndGlyphs">&lt;0.001</text>
<text x="63.03" y="1732.45" font-size="19" textLength="257.51" lengthAdjust="spacingAndGlyphs">Multivariable-adjusted model</text>
<text x="320.5" y="1724.05" fill="#1478c0" font-size="14">b</text>
<text x="418.45" y="1732.45" font-size="20">1</text>
<text x="523.61" y="1732.45" font-size="20" textLength="152.09" lengthAdjust="spacingAndGlyphs">1.03 (0.99-1.08)</text>
<text x="702.75" y="1732.45" font-size="20" textLength="152.21" lengthAdjust="spacingAndGlyphs">1.04 (0.99-1.09)</text>
<text x="887.83" y="1732.45" font-size="20" textLength="141.68" lengthAdjust="spacingAndGlyphs">1.06 (1.02-1.11)</text>
<text x="1070.60" y="1732.45" font-size="20" textLength="134.94" lengthAdjust="spacingAndGlyphs">1.12 (1.07-1.17)</text>
<text x="1242.97" y="1732.45" font-size="20" textLength="148.57" lengthAdjust="spacingAndGlyphs">1.04 (1.02-1.05)</text>
<text x="1431.70" y="1732.45" font-size="20" textLength="68.13" lengthAdjust="spacingAndGlyphs">&lt;0.001</text>
<text x="42.90" y="1766.42" font-size="19" textLength="100.35" lengthAdjust="spacingAndGlyphs">HLFD score</text>
<text x="63.14" y="1800.40" font-size="19" textLength="64.03" lengthAdjust="spacingAndGlyphs">Median</text>
<text x="418.65" y="1800.40" font-size="20">6</text>
<text x="589.15" y="1800.40" font-size="20">11</text>
<text x="767.55" y="1800.40" font-size="20">15</text>
<text x="947.40" y="1800.40" font-size="20">19</text>
<text x="1126.85" y="1800.40" font-size="20">24</text>
<text x="62.91" y="1834.38" font-size="19" textLength="169.08" lengthAdjust="spacingAndGlyphs">Cases/person-years</text>
<text x="354.32" y="1834.38" font-size="20" textLength="140.43" lengthAdjust="spacingAndGlyphs">4,193/1,042,261</text>
<text x="526.48" y="1834.38" font-size="20" textLength="147.13" lengthAdjust="spacingAndGlyphs">4,026/1,055,319</text>
<text x="703.86" y="1834.38" font-size="20" textLength="150.36" lengthAdjust="spacingAndGlyphs">3,863/1,049,938</text>
<text x="885.93" y="1834.38" font-size="20" textLength="145.83" lengthAdjust="spacingAndGlyphs">4,067/1,054,514</text>
<text x="1061.22" y="1834.38" font-size="20" textLength="154.06" lengthAdjust="spacingAndGlyphs">3,884/1,046,885</text>
<text x="63.45" y="1868.35" font-size="19" textLength="177.29" lengthAdjust="spacingAndGlyphs">Age-adjusted model</text>
<text x="418.45" y="1868.35" font-size="20">1</text>
<text x="521.44" y="1868.35" font-size="20" textLength="157.17" lengthAdjust="spacingAndGlyphs">0.92 (0.88-0.96)</text>
<text x="698.49" y="1868.35" font-size="20" textLength="161.50" lengthAdjust="spacingAndGlyphs">0.84 (0.80-0.88)</text>
<text x="880.91" y="1868.35" font-size="20" textLength="156.24" lengthAdjust="spacingAndGlyphs">0.82 (0.79-0.86)</text>
<text x="1063.40" y="1868.35" font-size="20" textLength="150.05" lengthAdjust="spacingAndGlyphs">0.75 (0.72-0.79)</text>
<text x="1239.98" y="1868.35" font-size="20" textLength="155.30" lengthAdjust="spacingAndGlyphs">0.90 (0.89-0.91)</text>
<text x="1431.70" y="1868.35" font-size="20" textLength="68.13" lengthAdjust="spacingAndGlyphs">&lt;0.001</text>
<text x="63.03" y="1902.82" font-size="19" textLength="257.51" lengthAdjust="spacingAndGlyphs">Multivariable-adjusted model</text>
<text x="320.5" y="1894.42" fill="#1478c0" font-size="14">b</text>
<text x="418.45" y="1902.82" font-size="20">1</text>
<text x="526.57" y="1902.82" font-size="20" textLength="146.89" lengthAdjust="spacingAndGlyphs">0.97 (0.93-1.01)</text>
<text x="700.64" y="1902.82" font-size="20" textLength="157.17" lengthAdjust="spacingAndGlyphs">0.92 (0.88-0.96)</text>
<text x="881.14" y="1902.82" font-size="20" textLength="155.77" lengthAdjust="spacingAndGlyphs">0.91 (0.88-0.96)</text>
<text x="1061.77" y="1902.82" font-size="20" textLength="153.32" lengthAdjust="spacingAndGlyphs">0.87 (0.83-0.91)</text>
<text x="1239.92" y="1902.82" font-size="20" textLength="155.42" lengthAdjust="spacingAndGlyphs">0.94 (0.93-0.96)</text>
<text x="1431.70" y="1902.82" font-size="20" textLength="68.13" lengthAdjust="spacingAndGlyphs">&lt;0.001</text>
</svg>
<div class="fn" style="top:1945px;">Values are HR (<span class="n">95</span>% CI) unless otherwise indicated. <sup>a</sup>Median value in each quintile category was used to calculate <i>P</i> value for trend. <sup>b</sup>Adjusted for age (continuous), white ancestry (yes or no), physical</div>
<div class="fn" style="top:1968px;">activity (<span class="n">&lt;3.0-3.0-8.9-9.0-17.9-18.0-26.9</span>, <span class="n">&#8805;27.0</span> METs-h/wk), smoking status (never, former, current), alcohol consumption (<span class="n">0-0.1-4.9-5.0-9.9-10.0-14.9-15.0-29.9</span>, <span class="n">&#8805;30.0</span> g/d), multivitamin use</div>
<div class="fn" style="top:1992px;">(yes, no), aspirin use (yes, no), postmenopausal hormone use (NHS/NHSII only; never, former, current hormone use), oral contraceptive use (NHS/NHSII only; never, former, current hormone use), family</div>
<div class="fn" style="top:2015px;">history of myocardial infarction (yes, no), intake of total energy (quintile), baseline body mass index status (<span class="n">&lt;25</span>, <span class="n">25.0-29.9</span>, <span class="n">&#8805;30.0</span> kg/m<sup><span class="n">2</span></sup>), baseline hypertension (yes, no), and baseline hypercho-</div>
<div class="fn" style="top:2038px;width:167px;">lesterolemia (yes, no).</div>
<div class="fn" style="top:2066px;left:40.6px;width:1473.4px;">ALCD = animal low-carbohydrate diet; ALFD = animal low-fat diet; CHD = coronary heart disease; HLCD = healthy low-carbohydrate diet; HLFD = healthy low-fat diet; HPFS = Health Professionals</div>
<div class="fn" style="top:2089px;">Follow-up Study; NHS = Nurses&#8217; Health Study; NHSII = Nurses&#8217; Health Study II; TLCD = total low-carbohydrate diet; TLFD = total low-fat diet; ULCD = unhealthy low-carbohydrate diet;</div>
<div class="fn" style="top:2112px;width:802px;">ULFD = unhealthy low-fat diet; VLCD = vegetable low-carbohydrate diet; VLFD = vegetable low-fat diet.</div>
<svg width="1538" height="2162" viewBox="0 0 1538 2162" style="position:absolute;left:0;top:0">
<defs><filter id="wmh" x="-10%" y="-10%" width="120%" height="120%"><feMorphology operator="dilate" radius="1.2" in="SourceAlpha" result="d"/><feGaussianBlur in="d" stdDeviation="1.6" result="b"/><feFlood flood-color="#7d8796" flood-opacity="0.1"/><feComposite in2="b" operator="in" result="s"/><feMerge><feMergeNode in="s"/><feMergeNode in="SourceGraphic"/></feMerge></filter></defs>
<rect x="1222" y="2044" width="74" height="74" rx="14" fill="#3a3f48" fill-opacity="0.025"/>
<g filter="url(#wmh)" opacity="0.92">
<rect x="1216.5" y="2038.5" width="85" height="85" rx="19" fill="none" stroke="#fff" stroke-width="6"/>
<path d="M1261,2048 C1249,2061 1237,2076 1241,2089 C1244,2097 1253,2097 1262,2096" fill="none" stroke="#fff" stroke-width="6" stroke-linecap="round"/>
<text x="1325" y="2089" style="font-family:'Liberation Sans','Noto Sans CJK SC','WenQuanYi Zen Hei',sans-serif" font-weight="500" font-size="54" fill="#fff" textLength="164" lengthAdjust="spacingAndGlyphs">医咖会</text>
</g>
</svg>
</body></html>
